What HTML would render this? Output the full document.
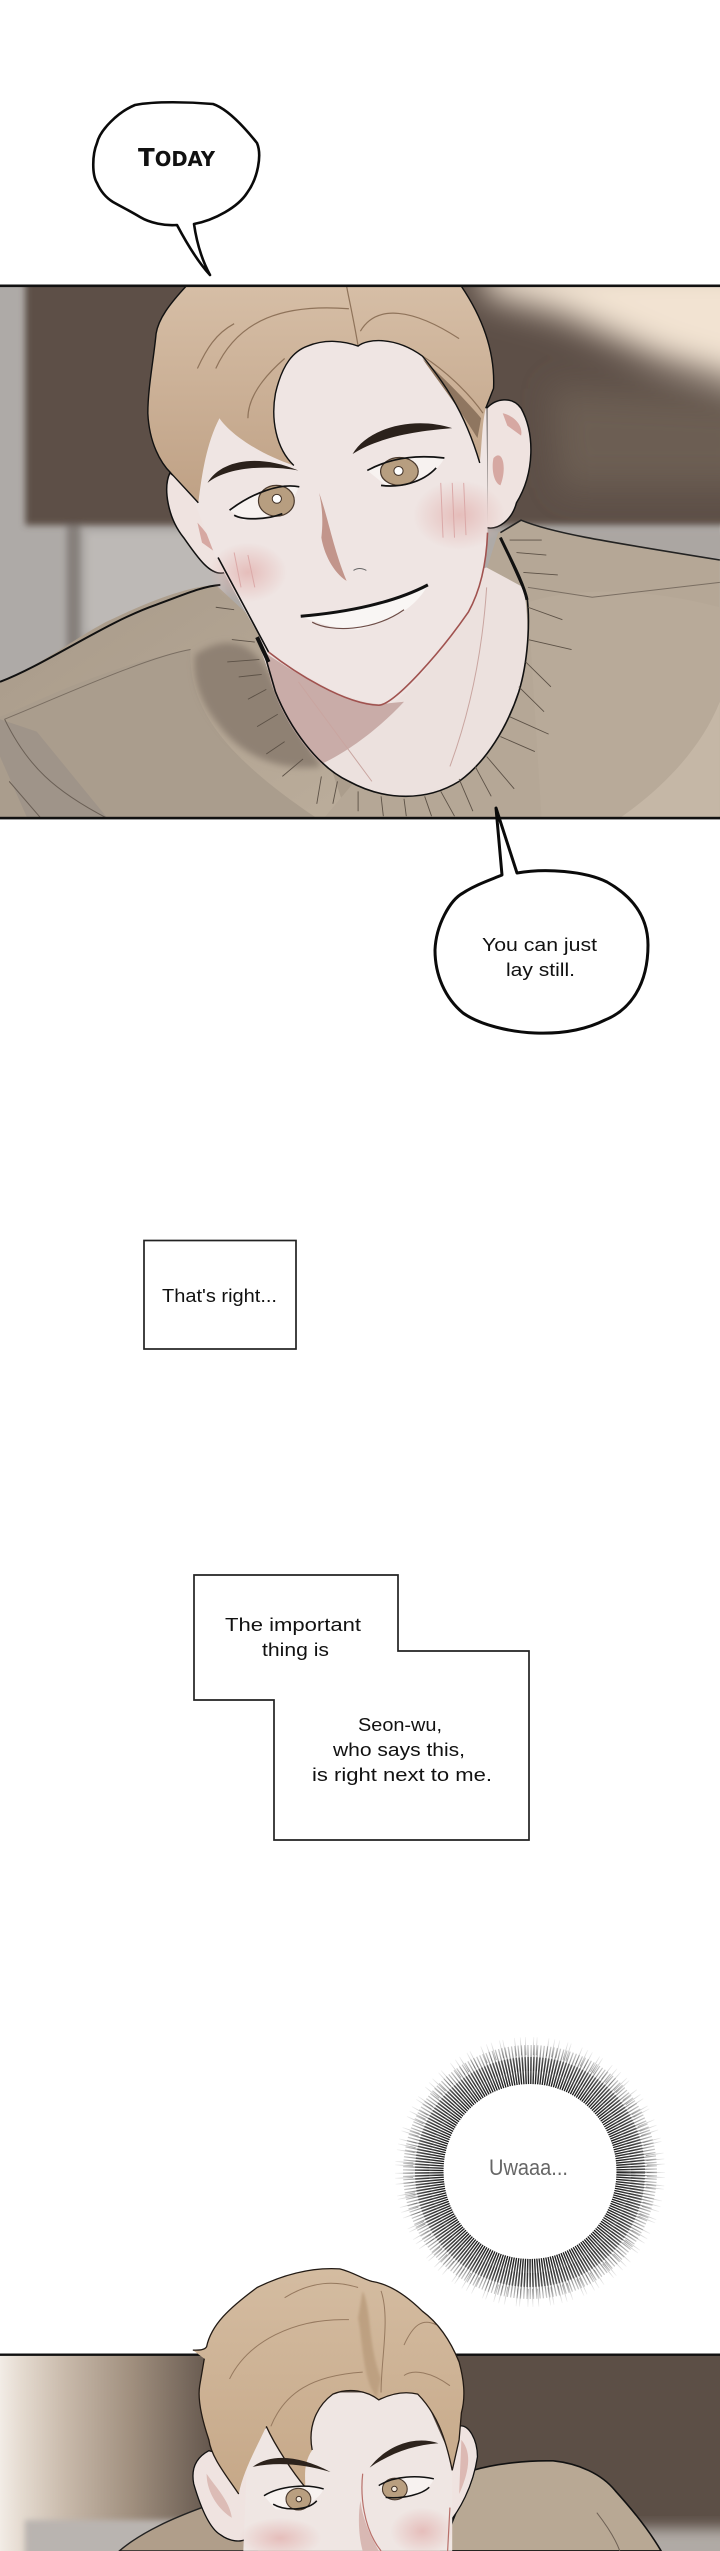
<!DOCTYPE html>
<html lang="en">
<head>
<meta charset="utf-8">
<title>Comic page</title>
<style>
html,body{margin:0;padding:0;background:#fff;}
body{position:relative;width:720px;height:2551px;overflow:hidden;}
svg{position:absolute;left:0;top:0;}
text{font-family:"Liberation Sans",sans-serif;fill:#111;font-size:18px;}
.n{vector-effect:non-scaling-stroke;}
</style>
</head>
<body>
<svg width="720" height="2551" viewBox="0 0 720 2551" xmlns="http://www.w3.org/2000/svg">
<defs>
<filter id="b1" x="-30%" y="-30%" width="160%" height="160%"><feGaussianBlur stdDeviation="7"/></filter>
<filter id="b2" x="-60%" y="-60%" width="220%" height="220%"><feGaussianBlur stdDeviation="34"/></filter>
<filter id="b3" x="-50%" y="-50%" width="200%" height="200%"><feGaussianBlur stdDeviation="3"/></filter>
<clipPath id="c1"><rect x="0" y="286" width="720" height="532"/></clipPath>
<clipPath id="c2"><rect x="0" y="2200" width="720" height="351"/></clipPath>
<clipPath id="c2b"><rect x="0" y="2355" width="720" height="196"/></clipPath>
<linearGradient id="hair1" x1="0" y1="0" x2="0" y2="1"><stop offset="0" stop-color="#d6bea6"/><stop offset="1" stop-color="#bfa185"/></linearGradient>
<linearGradient id="hair2" x1="0" y1="0" x2="0" y2="1"><stop offset="0" stop-color="#d4bca1"/><stop offset="1" stop-color="#c6a888"/></linearGradient>
<linearGradient id="leftbg" x1="0" y1="0" x2="1" y2="0"><stop offset="0" stop-color="#f2ece6"/><stop offset=".1" stop-color="#e4dacf"/><stop offset=".3" stop-color="#c8b9aa"/><stop offset=".6" stop-color="#a08f7e"/><stop offset="1" stop-color="#5e5148"/></linearGradient>
<linearGradient id="swt" x1="0" y1="0" x2="1" y2="1"><stop offset="0" stop-color="#a89a89"/><stop offset="1" stop-color="#bbad9b"/></linearGradient>
<radialGradient id="blush"><stop offset="0" stop-color="#e4b9b6" stop-opacity=".9"/><stop offset="1" stop-color="#e4b9b6" stop-opacity="0"/></radialGradient>
<radialGradient id="ray" gradientUnits="userSpaceOnUse" cx="530" cy="2172" r="136"><stop offset=".62" stop-color="#111"/><stop offset=".7" stop-color="#222" stop-opacity=".95"/><stop offset=".84" stop-color="#333" stop-opacity=".6"/><stop offset="1" stop-color="#555" stop-opacity=".05"/></radialGradient>
</defs>

<!-- PANEL 1 -->
<g clip-path="url(#c1)">
<g transform="translate(0,60) scale(.4591,.4975)">
  <rect x="0" y="452" width="1568" height="1080" fill="#aeaaa7"/>
  <g filter="url(#b1)">
    <rect x="55" y="430" width="1560" height="505" fill="#5d4f46"/>
    <rect x="145" y="935" width="30" height="260" fill="#86807c"/>
    <rect x="190" y="950" width="300" height="200" fill="#bdb9b6"/>
    <rect x="1130" y="945" width="460" height="60" fill="#aba6a2"/>
  </g>
  <g filter="url(#b2)">
    <polygon points="1040,400 1660,400 1660,660 1440,600 1220,510 1060,470" fill="#f2e3d2"/>
    <polygon points="1200,660 1640,680 1640,860 1220,860" fill="#6f6156" opacity=".8"/>
  </g>
  <!-- sweater -->
  <path d="M500,1300 L1200,1000 L1300,1530 L500,1530Z" fill="#ab9d8c"/>
  <path d="M0,1250 C100,1210 150,1170 230,1130 C320,1090 400,1060 470,1055 L640,1200 L760,1530 L0,1530Z" fill="url(#swt)"/>
  <path d="M1085,950 L1135,925 C1200,950 1330,965 1568,1005 L1568,1530 L700,1530 L1000,1200Z" fill="#b5a796"/>
  <path d="M0,1320 C60,1300 220,1220 415,1185 C410,1290 470,1390 700,1530 L0,1530Z" fill="#aa9d8d"/>
  <path d="M425,1195 C500,1150 560,1170 600,1260 L700,1420 C620,1430 530,1405 475,1335 C435,1290 418,1240 425,1195Z" fill="#8f8173" filter="url(#b1)"/>
  <path d="M1150,1090 C1250,1060 1400,1060 1568,1100 L1568,1530 L1180,1530Z" fill="#b8aa99"/>
  <path d="M1568,1290 C1520,1400 1420,1480 1340,1530 L1568,1530Z" fill="#c5b7a6" />
  <path d="M0,1325 L80,1350 L235,1525 L60,1525 L0,1400Z" fill="#9f9489"/>
  <path d="M10,1325 C60,1420 120,1470 235,1525 M20,1450 L90,1525" fill="none" stroke="#6a5f55" stroke-width="1" class="n"/>
  <path d="M0,1250 C100,1215 230,1130 340,1095 C400,1075 440,1058 480,1055" fill="none" stroke="#111" stroke-width="2" class="n"/>
  <path d="M1090,950 L1135,925 C1200,950 1300,965 1568,1005" fill="none" stroke="#222" stroke-width="1.6" class="n"/>
  <path d="M1150,1060 L1290,1080 L1568,1050 M415,1185 C320,1200 130,1280 10,1325" fill="none" stroke="#7a6e62" stroke-width="1" class="n"/>
  <!-- neck -->
  <path d="M560,1130 L1060,1020 L1140,1060 C1155,1130 1150,1210 1130,1270 C1105,1340 1060,1410 1000,1450 C930,1490 840,1490 760,1450 C690,1420 630,1340 600,1270 L570,1190Z" fill="#ecE1de"/>
  <path d="M575,1190 C640,1230 740,1290 825,1295 L880,1290 C830,1340 760,1390 700,1415 C650,1370 610,1310 590,1250Z" fill="#c9aca8"/>
  <path d="M575,1190 L600,1270 C630,1340 690,1420 760,1450 C840,1490 930,1490 1000,1450 C1060,1410 1105,1340 1130,1270 C1150,1210 1155,1130 1148,1080 L1090,960" fill="none" stroke="#111" stroke-width="1.6" class="n"/>
  <path d="M650,1250 L810,1450 M1060,1060 C1050,1200 1020,1320 980,1420" fill="none" stroke="#c9a5a0" stroke-width="1" class="n"/>
  <path d="M1150,1100 L1225,1125 M1150,1165 L1245,1185 M1145,1210 L1200,1260 M1130,1260 L1185,1310 M1110,1320 L1195,1355 M1090,1360 L1165,1390 M1060,1400 L1120,1465 M1035,1420 L1070,1480 M1000,1445 L1030,1510 M960,1470 L990,1520 M925,1480 L940,1520 M880,1485 L885,1520 M830,1480 L835,1520 M780,1470 L780,1510 M735,1450 L725,1495 M700,1440 L690,1495 M660,1405 L615,1440 M620,1370 L580,1395 M605,1315 L560,1340 M580,1265 L540,1285 M570,1235 L520,1240 M565,1205 L495,1210 M555,1170 L505,1165 M1110,965 L1180,965 M1125,990 L1190,995 M1140,1030 L1215,1035 M470,1100 L510,1105" stroke="#5c5146" stroke-width=".9" fill="none" class="n"/>
  <!-- ears -->
  <path d="M1060,700 C1080,680 1115,675 1135,700 C1165,750 1165,830 1125,890 C1115,925 1085,945 1060,940Z" fill="#efe3e0" stroke="#111" stroke-width="1.5" class="n"/>
  <path d="M1095,710 C1120,715 1140,735 1135,755 L1105,735Z M1075,800 C1095,780 1105,820 1090,855 C1075,850 1070,820 1075,800Z" fill="#d6a8a2"/>
  <path d="M370,830 C355,860 365,920 400,960 C430,1000 460,1040 490,1030 L470,900Z" fill="#efe3e0" stroke="#111" stroke-width="1.5" class="n"/>
  <path d="M430,930 C450,950 470,975 470,990 L440,970Z" fill="#d6a8a2"/>
  <!-- face -->
  <path d="M600,560 L920,560 L1060,700 L1062,950 C1060,1000 1050,1060 1020,1110 C960,1190 900,1260 860,1290 C830,1300 780,1290 720,1265 C680,1245 620,1215 585,1190 C540,1120 500,1050 470,1000 L420,880 L470,720Z" fill="#efe5e3"/>
  <ellipse cx="1000" cy="915" rx="100" ry="70" fill="url(#blush)"/>
  <ellipse cx="540" cy="1030" rx="85" ry="60" fill="url(#blush)"/>
  <path d="M960,850 L965,960 M985,850 L990,960 M1010,850 L1015,955 M510,990 L525,1060 M540,995 L555,1060" stroke="#dba9a8" stroke-width="1" class="n"/>
  <path d="M475,1000 C510,1060 550,1130 585,1190" stroke="#111" stroke-width="1.6" fill="none" class="n"/>
  <path d="M585,1190 C640,1230 750,1295 825,1297 C860,1295 960,1190 1020,1110 C1050,1060 1060,1000 1062,950" stroke="#a0524f" stroke-width="1.6" fill="none" class="n"/>
  <path d="M560,1160 L585,1210" stroke="#111" stroke-width="4" class="n"/>
  <path d="M1090,960 C1110,1000 1140,1050 1148,1085" stroke="#111" stroke-width="3" fill="none" class="n"/>
  <!-- hair -->
  <path d="M405,455 C370,490 345,520 340,550 C335,600 322,660 322,710 C325,770 350,810 372,830 L432,890 C440,830 450,770 478,720 C500,750 560,790 640,815 C600,780 590,720 600,670 C615,610 640,585 670,575 C710,560 750,565 780,575 C800,560 860,555 920,595 C960,640 1010,700 1045,810 C1050,770 1050,730 1058,700 L1075,660 C1078,600 1060,530 1005,455Z" fill="url(#hair1)"/>
  <path d="M470,620 C520,520 620,490 760,500 M780,575 C770,520 760,480 755,455 M785,545 C820,490 900,500 1000,560 M920,595 C980,630 1030,680 1052,710 M430,620 C450,580 470,550 510,530 M540,720 C540,680 570,640 620,600" stroke="#8f735a" stroke-width="1.2" fill="none" class="n"/>
  <path d="M920,600 C980,650 1020,690 1048,720 L1040,760 C1000,700 950,640 920,600Z" fill="#8f7660"/>
  <path d="M405,455 C370,490 345,520 340,550 C335,600 322,660 322,710 C325,770 350,810 372,830 L432,890 M640,815 C600,780 590,720 600,670 C615,610 640,585 670,575 C710,560 750,565 780,575 C800,560 860,555 920,595 M1005,455 C1060,530 1078,600 1075,660 L1058,700 M920,595 C960,640 1010,700 1045,810" fill="none" stroke="#111" stroke-width="1.4" class="n"/>
  <!-- left eye -->
  <path d="M500,905 C550,870 610,850 650,858 C640,895 590,925 530,925Z" fill="#f7f2f0"/>
  <ellipse cx="602" cy="886" rx="39" ry="31" fill="#b79e80" stroke="#4a392d" stroke-width="1.2" class="n"/>
  <ellipse cx="603" cy="882" rx="10" ry="9" fill="#fff" stroke="#3e2f25" stroke-width="1" class="n"/>
  <path d="M500,905 C550,870 610,850 652,858 M510,915 C530,925 580,925 615,912" fill="none" stroke="#111" stroke-width="1.7" class="n"/>
  <path d="M452,850 C480,805 560,790 650,825 C590,815 500,815 452,850Z" fill="#2b211b"/>
  <!-- right eye -->
  <path d="M800,825 C860,795 920,795 968,800 C950,835 890,860 840,855Z" fill="#f7f2f0"/>
  <ellipse cx="870" cy="827" rx="41" ry="28" fill="#b79e80" stroke="#4a392d" stroke-width="1.2" class="n"/>
  <ellipse cx="868" cy="826" rx="10" ry="9" fill="#fff" stroke="#3e2f25" stroke-width="1" class="n"/>
  <path d="M800,825 C860,795 920,795 968,800 M830,855 C870,860 920,850 950,820" fill="none" stroke="#111" stroke-width="1.7" class="n"/>
  <path d="M768,792 C800,740 900,715 985,740 C920,745 830,755 768,792Z" fill="#2b211b"/>
  <!-- nose -->
  <path d="M695,870 C715,920 725,980 755,1047 C725,1030 705,990 700,960 C705,920 700,890 695,870Z" fill="#c2958b"/>
  <path d="M770,1026 C780,1020 790,1022 798,1026" stroke="#666" stroke-width="1" fill="none" class="n"/>
  <!-- mouth -->
  <path d="M655,1118 C760,1110 860,1090 932,1055 C900,1110 840,1130 780,1145 C740,1145 700,1135 655,1118Z" fill="#f9f6f4"/>
  <path d="M655,1118 C760,1110 860,1090 932,1055" stroke="#111" stroke-width="3" fill="none" class="n"/>
  <path d="M680,1130 C720,1150 810,1150 880,1105" stroke="#6e4d47" stroke-width="1.2" fill="none" class="n"/>
</g>
</g>
<rect x="0" y="284.5" width="720" height="2.6" fill="#111"/>
<rect x="0" y="816.8" width="720" height="2.6" fill="#111"/>

<!-- bubble Today -->
<path d="M135,105 C155,101 190,102 213,104 C228,109 245,128 257,143 C262,155 258,178 247,193 C238,207 215,220 194,224 C197,245 203,262 210,275 C198,262 186,242 177,225 C165,226 150,223 140,217 C130,211 120,206 113,202 C105,197 100,190 97,183 C92,175 92,155 97,143 C100,130 118,112 135,105Z" fill="#fff" stroke="#0a0a0a" stroke-width="2.6" stroke-linejoin="round"/>
<text x="138" y="166" textLength="77" lengthAdjust="spacingAndGlyphs" style="font-weight:bold;font-size:25px;font-family:'DejaVu Sans',sans-serif;">T<tspan font-size="20">ODAY</tspan></text>

<!-- bubble 2 -->
<path d="M496,808 L502,875 C490,880 475,885 463,893 C450,900 436,925 435,950 C435,975 445,998 463,1013 C480,1025 510,1032 535,1033 C560,1034 585,1030 605,1020 C630,1010 648,985 648,945 C648,915 630,895 607,882 C585,871 545,868 517,873Z" fill="#fff" stroke="#0a0a0a" stroke-width="3" stroke-linejoin="round"/>
<text x="482" y="951" textLength="115" lengthAdjust="spacingAndGlyphs">You can just</text>
<text x="506" y="976" textLength="69" lengthAdjust="spacingAndGlyphs">lay still.</text>

<!-- box 1 -->
<rect x="144" y="1240.5" width="152" height="108.5" fill="#fff" stroke="#222" stroke-width="1.7"/>
<text x="162" y="1302" textLength="115" lengthAdjust="spacingAndGlyphs">That's right...</text>

<!-- box 2 -->
<polygon points="194,1575 398,1575 398,1651 529,1651 529,1840 274,1840 274,1700 194,1700" fill="#fff" stroke="#222" stroke-width="1.7"/>
<text x="225" y="1631" textLength="136" lengthAdjust="spacingAndGlyphs">The important</text>
<text x="262" y="1656" textLength="67" lengthAdjust="spacingAndGlyphs">thing is</text>
<text x="358" y="1731" textLength="84" lengthAdjust="spacingAndGlyphs">Seon-wu,</text>
<text x="333" y="1756" textLength="132" lengthAdjust="spacingAndGlyphs">who says this,</text>
<text x="312" y="1781" textLength="180" lengthAdjust="spacingAndGlyphs">is right next to me.</text>

<!-- burst -->
<g fill="none" stroke="url(#ray)">
  <circle cx="530" cy="2172" r="100" stroke-width="30" pathLength="1000" stroke-dasharray="2.4 1.75"/>
  <circle cx="530" cy="2172" r="114" stroke-width="26" pathLength="1000" stroke-dasharray="1.6 2.55"/>
  <circle cx="530" cy="2172" r="126" stroke-width="18" pathLength="1000" stroke-dasharray="1 5 1 9 1 3 1 13 1 6"/>
</g>
<ellipse cx="530" cy="2171.5" rx="86.5" ry="87.5" fill="#fff"/>
<text x="489" y="2175" textLength="79" lengthAdjust="spacingAndGlyphs" style="fill:#666;font-size:22px;">Uwaaa...</text>

<!-- PANEL 2 bg -->
<g clip-path="url(#c2b)">
  <rect x="0" y="2355" width="720" height="196" fill="#5c4f46"/>
  <rect x="0" y="2355" width="220" height="196" fill="url(#leftbg)"/>
  <g filter="url(#b3)"><rect x="25" y="2520" width="195" height="40" fill="#b9b4b0"/></g>
  <g filter="url(#b1)"><rect x="460" y="2528" width="280" height="40" fill="#b0aaa5"/></g>
</g>
<rect x="0" y="2353.5" width="720" height="2.4" fill="#111"/>
<g clip-path="url(#c2)">
<g transform="translate(0,2020) scale(.4591,.3386)">
  <!-- sweater -->
  <path d="M260,1568 C310,1510 380,1470 440,1440 L560,1568Z" fill="#b09e8a" stroke="#222" stroke-width="1.4" class="n"/>
  <path d="M1030,1330 C1080,1310 1150,1300 1205,1302 C1260,1310 1310,1340 1340,1390 C1380,1450 1415,1510 1440,1568 L960,1568Z" fill="#b8a894" stroke="#111" stroke-width="1.6" class="n"/>
  <path d="M1300,1455 C1320,1490 1340,1530 1350,1568" stroke="#6e6155" stroke-width="1" fill="none" class="n"/>
  <!-- ears -->
  <path d="M455,1272 C430,1290 415,1320 422,1370 C435,1430 455,1500 480,1520 C500,1540 525,1545 540,1530 L540,1300Z" fill="#efe3e0" stroke="#111" stroke-width="1.3" class="n"/>
  <path d="M450,1340 C470,1380 500,1420 505,1470 C480,1450 450,1400 450,1340Z" fill="#dcbcb6"/>
  <path d="M1000,1200 C1020,1190 1040,1240 1040,1290 C1030,1380 1000,1450 975,1490 L960,1300Z" fill="#efe3e0" stroke="#111" stroke-width="1.3" class="n"/>
  <path d="M1005,1240 C1030,1280 1020,1340 1000,1400 Z" fill="#dcb9b3"/>
  <!-- face -->
  <path d="M540,1240 L700,1100 L920,1100 L985,1300 L985,1568 L530,1568Z" fill="#efe6e3"/>
  <ellipse cx="610" cy="1530" rx="90" ry="60" fill="url(#blush)"/>
  <ellipse cx="920" cy="1510" rx="70" ry="70" fill="url(#blush)"/>
  <path d="M790,1340 C785,1400 790,1500 830,1568 M980,1440 L975,1568" stroke="#b8706a" stroke-width="1.2" fill="none" class="n"/>
  <path d="M785,1420 C790,1480 810,1530 825,1568 L790,1568 C780,1520 780,1460 785,1420Z" fill="#d8b8b3"/>
  <!-- hair -->
  <path d="M420,975 C435,975 445,975 450,965 C460,900 500,850 560,790 C620,750 680,730 740,735 C770,745 790,765 810,772 C850,780 890,820 920,860 C960,900 985,960 1000,1010 C1010,1060 1015,1110 1005,1160 L1000,1240 L985,1330 C970,1230 950,1160 910,1105 C880,1095 850,1105 825,1122 C800,1095 760,1085 725,1105 C690,1140 670,1200 680,1270 C660,1310 665,1350 665,1380 C640,1340 600,1260 580,1200 C560,1260 530,1330 520,1400 C490,1340 460,1290 455,1240 C440,1180 430,1120 435,1080 L445,1000Z" fill="url(#hair2)"/>
  <path d="M790,800 C810,860 800,950 830,1060 L820,1115 C790,1060 790,950 780,880Z" fill="#bda081" filter="url(#b3)"/>
  <path d="M500,1060 C540,950 640,880 760,885 M620,820 C680,770 730,770 780,790 M830,1100 C830,1000 850,880 830,800 M880,1050 C900,1030 940,1040 980,1080 M880,960 C900,900 920,880 950,900 M590,1200 C620,1100 680,1050 790,1040" stroke="#96795f" stroke-width="1" fill="none" class="n"/>
  <path d="M420,975 C435,975 445,975 450,965 C460,900 500,850 560,790 C620,750 680,730 740,735 C770,745 790,765 810,772 C850,780 890,820 920,860 C960,900 985,960 1000,1010 C1010,1060 1015,1110 1005,1160 L1000,1240 L985,1330 C970,1230 950,1160 910,1105 C880,1095 850,1105 825,1122 C800,1095 760,1085 725,1105 C690,1140 670,1200 680,1270 M665,1380 C640,1340 600,1260 580,1200 M520,1400 C490,1340 460,1290 455,1240 C440,1180 430,1120 435,1080 L445,1000" fill="none" stroke="#221a14" stroke-width="1.3" class="n"/>
  <!-- brows -->
  <path d="M550,1320 C590,1280 650,1285 720,1335 C660,1310 600,1305 550,1320Z" fill="#2d231c"/>
  <path d="M805,1322 C840,1260 900,1225 955,1250 C900,1255 850,1280 805,1322Z" fill="#2d231c"/>
  <!-- eyes -->
  <path d="M575,1405 C610,1375 670,1370 705,1385 C690,1430 640,1450 600,1445Z" fill="#f7f2f0"/>
  <ellipse cx="650" cy="1415" rx="27" ry="32" fill="#b99f80" stroke="#4a392d" stroke-width="1.1" class="n"/>
  <ellipse cx="651" cy="1415" rx="6" ry="8" fill="#f3e8dc" stroke="#3e2f25" stroke-width="1" class="n"/>
  <path d="M575,1405 C610,1375 670,1370 705,1385 M595,1430 C620,1450 670,1450 690,1420" fill="none" stroke="#111" stroke-width="1.5" class="n"/>
  <path d="M825,1375 C860,1345 910,1345 945,1355 C935,1395 890,1415 840,1410Z" fill="#f7f2f0"/>
  <ellipse cx="860" cy="1385" rx="27" ry="32" fill="#b99f80" stroke="#4a392d" stroke-width="1.1" class="n"/>
  <ellipse cx="859" cy="1385" rx="6" ry="8" fill="#f3e8dc" stroke="#3e2f25" stroke-width="1" class="n"/>
  <path d="M825,1375 C860,1345 910,1345 945,1355 M840,1410 C880,1415 920,1400 935,1380" fill="none" stroke="#111" stroke-width="1.5" class="n"/>
</g>
</g>
</svg>
</body>
</html>
